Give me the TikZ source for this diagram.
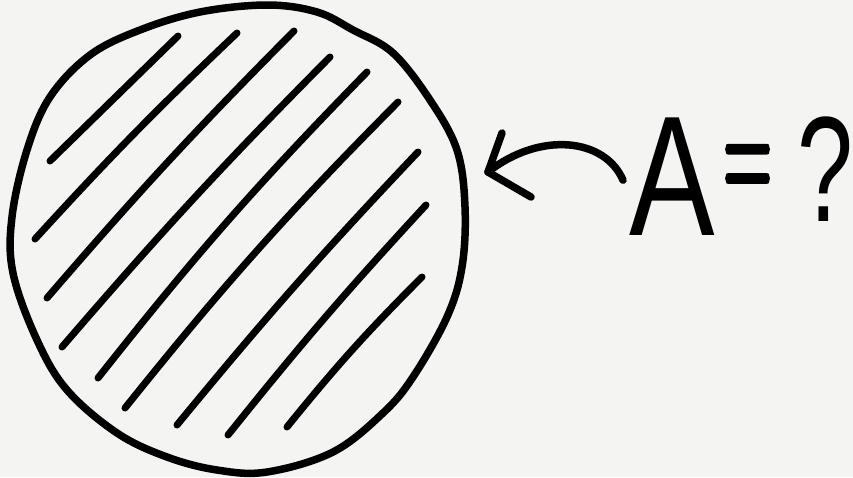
\documentclass[tikz,border=0pt]{standalone}
\usepackage{fontspec}
\newfontfamily\handfont{Liberation Sans}
\newfontfamily\eqfont{Latin Modern Roman}[FakeBold=3]
\definecolor{paper}{RGB}{244,244,243}
\begin{document}
\begin{tikzpicture}[x=1pt,y=-1pt,
  pen/.style={line width=7.5pt, line cap=round, line join=round, draw=black},
  hatch/.style={line width=7pt, line cap=round, draw=black},
  glyph/.style={anchor=base west, inner sep=0pt}]
\useasboundingbox (0,0) rectangle (853,477);
\fill[paper] (0,0) rectangle (853,477);
% circle outline
\draw[pen] plot[smooth cycle, tension=0.6] coordinates {
  (267,5) (317,12) (353,30) (393,53) (430,100) (457,150) (465,207)
  (462,267) (447,317) (413,377) (383,413) (333,452) (267,472) (217,470)
  (167,457) (117,433) (67,390) (37,340) (13,273) (12,217) (27,150)
  (50,97) (90,55) (140,30) (200,12)};
% hatching
\draw[hatch] (50,161) -- (178,36);
\draw[hatch] (35,239) to[bend left=2] (237,33);
\draw[hatch] (47,298) to[bend left=2] (294,31);
\draw[hatch] (62,347) to[bend left=2] (330,57);
\draw[hatch] (98,378) to[bend left=3] (367,72);
\draw[hatch] (125,408) to[bend left=3] (398,102);
\draw[hatch] (177,425) to[bend left=2] (418,152);
\draw[hatch] (228,435) to[bend left=2] (426,205);
\draw[hatch] (287,427) to[bend left=3] (422,277);
% label A=?
\node[glyph, font=\handfont\fontsize{171}{171}\selectfont]
  (a) at (629,235) {\scalebox{0.75}[1]{A}};
\node[glyph, font=\eqfont\fontsize{165}{165}\selectfont]
  (eq) at (723,205) {\scalebox{0.41}[1]{=}};
\node[glyph, font=\handfont\fontsize{150}{150}\selectfont]
  (q) at (797,221) {\scalebox{0.67}[1]{?\kern-24pt}};
% arrow
\coordinate (tip) at (488,172);
\draw[pen] ([xshift=-6pt,yshift=-4pt]a.west) .. controls (605,138) and (540,131) .. (tip);
\draw[pen] (502,133) -- (tip) -- (531,197);
\end{tikzpicture}
\end{document}
